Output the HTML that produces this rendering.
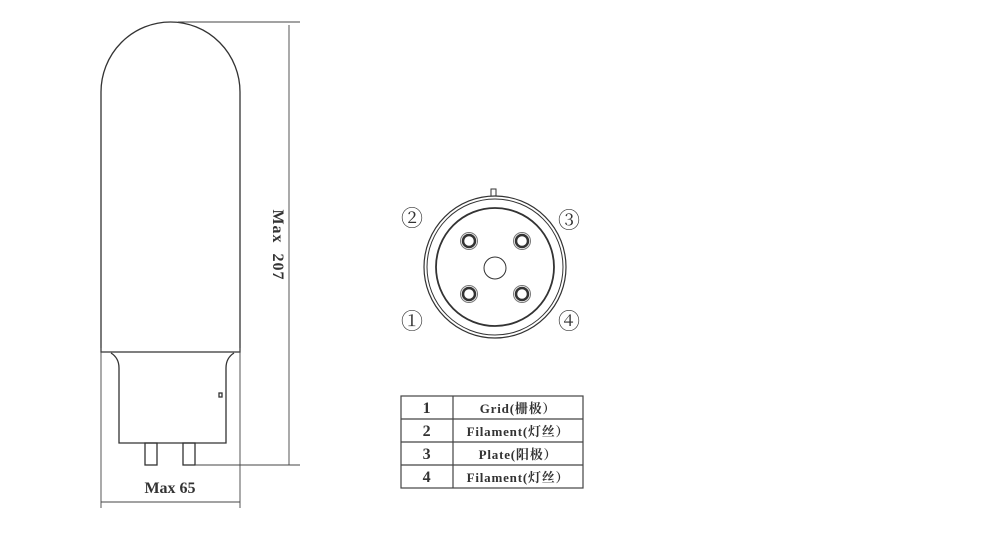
<!DOCTYPE html>
<html><head><style>body{margin:0;background:#fff}</style></head><body>
<svg width="1000" height="539" xmlns="http://www.w3.org/2000/svg" font-family="Liberation Serif, 'Noto Serif CJK SC', serif">
<g fill="none" stroke="#333" stroke-width="1.3">
<path d="M101,352 L101,92 A69.5,70 0 0 1 240,92 L240,352 Z"/>
<path d="M111,353 Q119,358 119,368 L119,443 L226,443 L226,368 Q226,358 234,353"/>
<rect x="145" y="443" width="12" height="22"/>
<rect x="183" y="443" width="12" height="22"/>
<rect x="219" y="393" width="3" height="4"/>
</g>
<g stroke="#444" stroke-width="0.9">
<line x1="178" y1="22" x2="300" y2="22"/>
<line x1="289" y1="25" x2="289" y2="465"/>
<line x1="195" y1="465" x2="300" y2="465"/>
<line x1="101" y1="348" x2="101" y2="508"/>
<line x1="240" y1="348" x2="240" y2="508"/>
<line x1="101" y1="502" x2="240" y2="502"/>
</g>
<text x="273" y="245" font-size="16" font-weight="bold" fill="#333" text-anchor="middle" letter-spacing="1" transform="rotate(90 273 245)" xml:space="preserve">Max  207</text>
<text x="170" y="493" font-size="16" font-weight="bold" fill="#333" text-anchor="middle">Max 65</text>
<g fill="none" stroke="#333">
<rect x="491" y="189" width="5" height="8" stroke-width="1"/>
<circle cx="495" cy="267" r="71" stroke-width="1.2" fill="#fff"/>
<circle cx="495" cy="267" r="68" stroke-width="1"/>
<circle cx="495" cy="267" r="59" stroke-width="1.8"/>
<circle cx="495" cy="268" r="11" stroke-width="1"/>
<g>
<g stroke-width="2.5"><circle cx="469" cy="241" r="6"/><circle cx="522" cy="241" r="6"/><circle cx="469" cy="294" r="6"/><circle cx="522" cy="294" r="6"/></g>
<g stroke-width="1" stroke="#777"><circle cx="469" cy="241" r="8.5"/><circle cx="522" cy="241" r="8.5"/><circle cx="469" cy="294" r="8.5"/><circle cx="522" cy="294" r="8.5"/></g>
</g>
</g>
<g fill="#333" font-size="22" text-anchor="middle">
<text x="412" y="226">②</text><text x="569" y="228">③</text>
<text x="412" y="329">①</text><text x="569" y="329">④</text>
</g>
<g fill="none" stroke="#444" stroke-width="1.2">
<rect x="401" y="396" width="182" height="92"/>
<line x1="453" y1="396" x2="453" y2="488"/>
<line x1="401" y1="419" x2="583" y2="419"/>
<line x1="401" y1="442" x2="583" y2="442"/>
<line x1="401" y1="465" x2="583" y2="465"/>
</g>
<g fill="#333" font-size="13" font-weight="bold" text-anchor="middle" letter-spacing="0.8">
<text x="427" y="413" font-size="16">1</text><text x="518" y="413">Grid(栅极）</text>
<text x="427" y="436" font-size="16">2</text><text x="518" y="436">Filament(灯丝）</text>
<text x="427" y="459" font-size="16">3</text><text x="518" y="459">Plate(阳极）</text>
<text x="427" y="482" font-size="16">4</text><text x="518" y="482">Filament(灯丝）</text>
</g>
</svg>
</body></html>
